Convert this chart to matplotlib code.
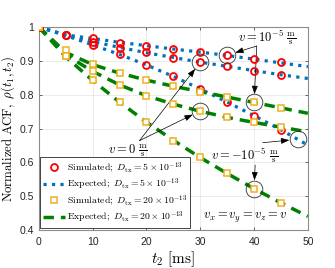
import matplotlib
matplotlib.use("Agg")
import matplotlib.pyplot as plt

plt.rcParams['mathtext.fontset'] = 'cm'
plt.rcParams['font.family'] = 'Liberation Sans'

# time points [ms]
t_sim = [0, 5, 10, 15, 20, 25, 30, 35, 40, 45]
t_exp = [0, 5, 10, 15, 20, 25, 30, 35, 40, 45, 50]

# D_tx = 5e-13, v = 1e-5, 0, -1e-5
sim5_pos = [1, 0.978, 0.967, 0.954, 0.944, 0.935, 0.927, 0.917, 0.906, 0.896]
sim5_zero = [1, 0.978, 0.957, 0.939, 0.925, 0.909, 0.896, 0.884, 0.871, 0.859]
sim5_neg = [1, 0.978, 0.947, 0.920, 0.888, 0.854, 0.817, 0.777, 0.738, 0.697]
exp5_pos = [1, 0.977, 0.966, 0.955, 0.945, 0.935, 0.926, 0.916, 0.905, 0.894, 0.883]
exp5_zero = [1, 0.976, 0.957, 0.940, 0.924, 0.910, 0.896, 0.884, 0.871, 0.859, 0.848]
exp5_neg = [1, 0.975, 0.947, 0.919, 0.888, 0.854, 0.817, 0.778, 0.738, 0.696, 0.651]

# D_tx = 20e-13
sim20_pos = [1, 0.932, 0.890, 0.863, 0.843, 0.825, 0.809, 0.794, 0.777, 0.762]
sim20_zero = [1, 0.915, 0.870, 0.828, 0.797, 0.771, 0.752, 0.733, 0.718, 0.705]
sim20_neg = [1, 0.915, 0.843, 0.779, 0.720, 0.664, 0.615, 0.567, 0.522, 0.480]
exp20_pos = [1, 0.925, 0.889, 0.864, 0.843, 0.825, 0.809, 0.793, 0.777, 0.761, 0.745]
exp20_zero = [1, 0.918, 0.869, 0.829, 0.797, 0.772, 0.751, 0.733, 0.718, 0.704, 0.690]
exp20_neg = [1, 0.912, 0.842, 0.778, 0.719, 0.665, 0.614, 0.567, 0.522, 0.480, 0.440]

fig = plt.figure(figsize=(3.35, 2.68), dpi=100)
ax = fig.add_axes([0.116, 0.142, 0.803, 0.757])

blue = '#0072BD'
green = '#008000'
red = '#FF0000'
orange = '#EDB120'

for y in [exp5_pos, exp5_zero, exp5_neg]:
    l_exp5, = ax.plot(t_exp, y, color=blue, ls=':', lw=2.3, zorder=3)
for y in [exp20_pos, exp20_zero, exp20_neg]:
    l_exp20, = ax.plot(t_exp, y, color=green, ls=(0, (3, 2)), lw=2.5, zorder=3)
for y in [sim5_pos, sim5_zero, sim5_neg]:
    l_sim5, = ax.plot(t_sim, y, ls='none', marker='o', ms=5, mfc='none',
                      mec=red, mew=1.3, zorder=4)
for y in [sim20_pos, sim20_zero, sim20_neg]:
    l_sim20, = ax.plot(t_sim, y, ls='none', marker='s', ms=4, mfc='white',
                       mec=orange, mew=1.1, zorder=4)

# highlight circles
circ_x = [35, 40, 30, 30, 48.1, 40]
circ_y = [0.917, 0.777, 0.896, 0.752, 0.668, 0.522]
ax.plot(circ_x, circ_y, ls='none', marker='o', ms=12, mfc='none',
        mec='#303030', mew=0.6, zorder=5)

arrow = dict(arrowstyle='-|>,head_length=0.5,head_width=0.18', color='black',
             lw=0.5, shrinkA=0, shrinkB=6)
fs = 9
ax.text(42.4, 0.967, r'$v=10^{-5}\ \frac{\mathrm{m}}{\mathrm{s}}$', fontsize=fs,
        ha='center', va='center')
ax.annotate('', xy=(35, 0.917), xytext=(40.5, 0.944), arrowprops=arrow)
ax.annotate('', xy=(40, 0.777), xytext=(40.5, 0.944), arrowprops=arrow)

ax.text(16.6, 0.635, r'$v=0\ \frac{\mathrm{m}}{\mathrm{s}}$', fontsize=fs,
        ha='center', va='center')
ax.annotate('', xy=(30, 0.896), xytext=(18.7, 0.664), arrowprops=arrow)
ax.annotate('', xy=(30, 0.752), xytext=(18.7, 0.664), arrowprops=arrow)

ax.text(38.3, 0.619, r'$v=-10^{-5}\ \frac{\mathrm{m}}{\mathrm{s}}$', fontsize=fs,
        ha='center', va='center')
ax.annotate('', xy=(48.1, 0.668), xytext=(41.6, 0.658), arrowprops=arrow)
ax.annotate('', xy=(40, 0.522), xytext=(40.2, 0.592), arrowprops=arrow)

ax.text(38.3, 0.435, r'$v_x=v_y=v_z=v$', fontsize=fs, ha='center', va='center')

ax.set_xlim(0, 50)
ax.set_ylim(0.4, 1)
ax.set_xticks([0, 10, 20, 30, 40, 50])
ax.set_yticks([0.4, 0.5, 0.6, 0.7, 0.8, 0.9, 1])
ax.set_yticklabels(['0.4', '0.5', '0.6', '0.7', '0.8', '0.9', '1'])
ax.tick_params(direction='in', length=2.5, width=0.5, labelsize=7.5,
               colors='#262626', top=True, right=True)
ax.tick_params(axis='x', pad=5)
ax.grid(True, color='#e3e3e3', lw=0.5)
ax.set_axisbelow(True)
for s in ax.spines.values():
    s.set_color('#8c8c8c')
    s.set_linewidth(0.8)

ax.set_xlabel(r'$t_2\ [\mathrm{ms}]$', fontsize=11, labelpad=2)
ax.set_ylabel(r'$\mathrm{Normalized\ ACF},\ \rho(t_1,t_2)$', fontsize=9.2,
              labelpad=2)

labels = [r'$\mathrm{Simulated};\ D_{\mathrm{tx}}=5\times10^{-13}$',
          r'$\mathrm{Expected};\ D_{\mathrm{tx}}=5\times10^{-13}$',
          r'$\mathrm{Simulated};\ D_{\mathrm{tx}}=20\times10^{-13}$',
          r'$\mathrm{Expected};\ D_{\mathrm{tx}}=20\times10^{-13}$']
leg = ax.legend([l_sim5, l_exp5, l_sim20, l_exp20], labels, loc='lower left',
                bbox_to_anchor=(0.004, 0.008), borderaxespad=0, fontsize=7,
                fancybox=False, framealpha=1, edgecolor='#262626',
                handlelength=2.3, handletextpad=0.2, labelspacing=0.15,
                borderpad=0.3)
leg.get_frame().set_linewidth(0.6)

fig.savefig('out.png', dpi=100)
